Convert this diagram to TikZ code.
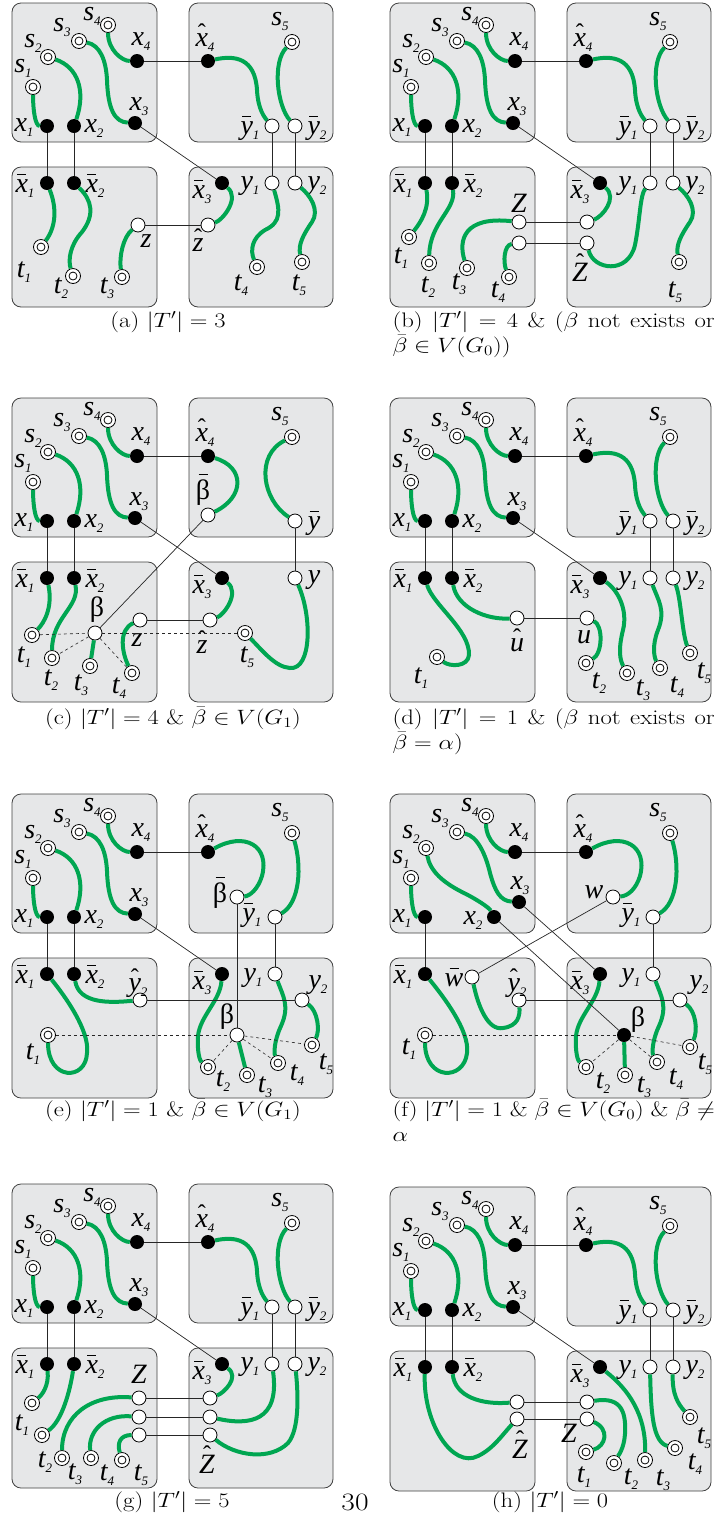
\documentclass[tikz,border=0pt]{standalone}
\usepackage{fontspec}
\newfontfamily\labfont{Liberation Serif}
\definecolor{pathgreen}{RGB}{0,166,81}
\definecolor{boxgray}{RGB}{230,231,232}

% label helpers
\newcommand\lsz{\fontsize{28}{28}\selectfont}
\newcommand\sub[1]{\raisebox{-5pt}{\fontsize{13}{13}\selectfont\itshape #1}}
\newcommand\barred[1]{\setbox0=\hbox{#1}\rlap{\hbox to \wd0{\hss\raisebox{\dimexpr\ht0+5pt\relax}{\rule{9pt}{1.1pt}}\hss}}\box0}
\newcommand\hatted[1]{\setbox0=\hbox{#1}\rlap{\hbox to \wd0{\hss\raisebox{\dimexpr\ht0-7pt\relax}{\fontsize{24}{24}\selectfont\upshape\char"02C6}\hss}}\box0}
\newcommand\lx[2]{{\lsz\itshape #1}\sub{#2}}
\newcommand\lbar[2]{{\lsz\itshape\barred{#1}}\sub{#2}}
\newcommand\lhat[2]{{\lsz\itshape\hatted{#1}}\sub{#2}}
% captions
\newcommand\capsz{\fontsize{21}{25}\selectfont}
\newcommand\capone[1]{\scalebox{1.18}[1]{\capsz #1}}
\newcommand\captwo[2]{\scalebox{1.18}[1]{\parbox[t]{273pt}{\capsz\makebox[273pt][s]{#1}\\#2}}}

% the four boxes of one panel
\newcommand\boxes{%
  \draw[box] (12,3) rectangle (157,142);
  \draw[box] (189,3) rectangle (333,142);
  \draw[box] (12,167) rectangle (157,307);
  \draw[box] (189,167) rectangle (333,307);
}
% sources, x1 and x4
\newcommand\sources[1]{%
  \node[tnode] (#1-s1) at (33,87) {};
  \node[tnode] (#1-s2) at (48,57) {};
  \node[tnode] (#1-s3) at (79,41) {};
  \node[tnode] (#1-s4) at (108,25) {};
  \node[lab] (#1-ls1) at (23,68) {\lx{s}{1}};
  \node[lab] (#1-ls2) at (33,43) {\lx{s}{2}};
  \node[lab] (#1-ls3) at (62,27) {\lx{s}{3}};
  \node[lab] (#1-ls4) at (92,16) {\lx{s}{4}};
  \node[fnode] (#1-x1) at (47,126) {};
  \node[fnode] (#1-x4) at (137,61) {};
  \node[lab] (#1-lx1) at (24,128) {\lx{x}{1}};
  \node[lab] (#1-lx4) at (141,42) {\lx{x}{4}};
  \draw[grn] (#1-s1) .. controls +(0,22) and +(-12,0) .. (#1-x1);
  \draw[grn] (#1-s4) .. controls +(0,25) and +(-15,0) .. (#1-x4);
}
% standard top left box
\newcommand\TL[1]{%
  \sources{#1}
  \node[fnode] (#1-x2) at (74,126) {};
  \node[fnode] (#1-x3) at (135,123) {};
  \node[lab] (#1-lx2) at (94,129) {\lx{x}{2}};
  \node[lab] (#1-lx3) at (139,107) {\lx{x}{3}};
  \draw[grn] (#1-s2) .. controls (78,67) and (86,91) .. (#1-x2);
  \draw[grn] (#1-s3) .. controls (100,45) and (106,60) .. (107,80) .. controls (108,110) and (115,122) .. (#1-x3);
}
% hat x4 and s5
\newcommand\TRhat[1]{%
  \node[fnode] (#1-hx4) at (208,61) {};
  \node[tnode] (#1-s5) at (292,42) {};
  \node[lab] (#1-lhx4) at (205,38) {\lhat{x}{4}};
  \node[lab] (#1-ls5) at (280,21) {\lx{s}{5}};
}
% standard top right box
\newcommand\TR[1]{%
  \TRhat{#1}
  \node[onode] (#1-by1) at (272,126) {};
  \node[onode] (#1-by2) at (295,126) {};
  \node[lab] (#1-lby1) at (250,128) {\lbar{y}{1}};
  \node[lab] (#1-lby2) at (317,128) {\lbar{y}{2}};
  \draw[grn] (#1-hx4) .. controls (235,55) and (255,58) .. (257,90) .. controls (258,110) and (265,118) .. (#1-by1);
  \draw[grn] (#1-s5) .. controls +(-20,20) and +(-18,-20) .. (#1-by2);
}
\newcommand\BLtop[1]{%
  \node[fnode] (#1-bx1) at (47,183) {};
  \node[fnode] (#1-bx2) at (74,183) {};
  \node[lab] (#1-lbx1) at (25,186) {\lbar{x}{1}};
  \node[lab] (#1-lbx2) at (95,186) {\lbar{x}{2}};
}
\newcommand\BRtop[1]{%
  \node[fnode] (#1-bx3) at (222,183) {};
  \node[lab] (#1-lbx3) at (202,192) {\lbar{x}{3}};
}
\newcommand\Ys[1]{%
  \node[onode] (#1-y1) at (272,183) {};
  \node[onode] (#1-y2) at (295,183) {};
  \node[lab] (#1-ly1) at (250,186) {\lx{y}{1}};
  \node[lab] (#1-ly2) at (317,186) {\lx{y}{2}};
}
% edges between the boxes
\newcommand\links[1]{%
  \draw[link] (#1-x1) -- (#1-bx1);
  \draw[link] (#1-x2) -- (#1-bx2);
  \draw[link] (#1-x3) -- (#1-bx3);
  \draw[link] (#1-x4) -- (#1-hx4);
}

\begin{document}
\begin{tikzpicture}[x=1pt, y=-1pt,
    box/.style={draw=black!75, fill=boxgray, rounded corners=9pt, line width=0.8pt},
    fnode/.style={circle, fill=black, inner sep=0pt, minimum size=14pt},
    onode/.style={circle, draw=black, fill=white, line width=0.8pt, inner sep=0pt, minimum size=14pt},
    tnode/.style={circle, draw=black, fill=white, line width=0.8pt, inner sep=0pt, minimum size=15pt,
      path picture={\draw[line width=0.8pt] (path picture bounding box.center) circle (4pt);}},
    grn/.style={draw=pathgreen, line width=4pt},
    link/.style={draw=black!85, line width=0.7pt},
    dlink/.style={draw=black!85, line width=0.6pt, dashed},
    lab/.style={inner sep=0pt, font=\labfont}]
  \useasboundingbox (0,0) rectangle (714,1535);

  % (a)
  \begin{scope}
    \boxes \TL{a} \TR{a} \BLtop{a} \BRtop{a} \Ys{a}
    \node[tnode] (a-t1) at (41,247) {};
    \node[tnode] (a-t2) at (73,276) {};
    \node[tnode] (a-t3) at (122,277) {};
    \node[onode] (a-z) at (138,225) {};
    \node[onode] (a-hz) at (208,225) {};
    \node[tnode] (a-t4) at (257,267) {};
    \node[tnode] (a-t5) at (302,262) {};
    \node[lab] (a-lt1) at (24,272) {\lx{t}{1}};
    \node[lab] (a-lt2) at (61,288) {\lx{t}{2}};
    \node[lab] (a-lt3) at (107,288) {\lx{t}{3}};
    \node[lab] (a-lz) at (146,244) {\lx{z}{}};
    \node[lab] (a-lhz) at (198,243) {\lhat{z}{}};
    \node[lab] (a-lt4) at (241,285) {\lx{t}{4}};
    \node[lab] (a-lt5) at (299,285) {\lx{t}{5}};
    \draw[grn] (a-bx1) .. controls (57,208) and (56,227) .. (a-t1);
    \draw[grn] (a-bx2) .. controls (92,200) and (95,215) .. (82,232) .. controls (70,245) and (68,260) .. (a-t2);
    \draw[grn] (a-z) .. controls +(-15,12) and +(-3,-20) .. (a-t3);
    \draw[grn] (a-bx3) .. controls (240,198) and (223,220) .. (a-hz);
    \draw[grn] (a-y1) .. controls (280,210) and (282,222) .. (265,230) .. controls (252,238) and (250,250) .. (a-t4);
    \draw[grn] (a-y2) .. controls (310,195) and (320,210) .. (312,222) .. controls (303,235) and (298,245) .. (a-t5);
    \links{a}
    \draw[link] (a-z) -- (a-hz);
    \draw[link] (a-by1) -- (a-y1);
    \draw[link] (a-by2) -- (a-y2);
  \end{scope}

  % (b)
  \begin{scope}[shift={(378,0)}]
    \boxes \TL{b} \TR{b} \BLtop{b} \BRtop{b} \Ys{b}
    \node[tnode] (b-t1) at (31,237) {};
    \node[tnode] (b-t2) at (51,263) {};
    \node[tnode] (b-t3) at (89,268) {};
    \node[tnode] (b-t4) at (131,277) {};
    \node[onode] (b-Z1) at (141,222) {};
    \node[onode] (b-Z2) at (141,243) {};
    \node[onode] (b-hZ1) at (209,222) {};
    \node[onode] (b-hZ2) at (209,243) {};
    \node[tnode] (b-t5) at (301,262) {};
    \node[lab] (b-lt1) at (23,258) {\lx{t}{1}};
    \node[lab] (b-lt2) at (50,287) {\lx{t}{2}};
    \node[lab] (b-lt3) at (81,284) {\lx{t}{3}};
    \node[lab] (b-lt4) at (120,292) {\lx{t}{4}};
    \node[lab] (b-lZ) at (141,206) {\lx{Z}{}};
    \node[lab] (b-lhZ) at (202,270) {\lhat{Z}{}};
    \node[lab] (b-lt5) at (297,292) {\lx{t}{5}};
    \draw[grn] (b-bx1) .. controls +(5,25) and +(12,-15) .. (b-t1);
    \draw[grn] (b-bx2) .. controls (78,210) and (52,222) .. (b-t2);
    \draw[grn] (b-Z1) .. controls (86,216) and (80,240) .. (b-t3);
    \draw[grn] (b-Z2) .. controls (126,245) and (125,262) .. (b-t4);
    \draw[grn] (b-bx3) .. controls (240,198) and (224,217) .. (b-hZ1);
    \draw[grn] (b-hZ2) .. controls (215,270) and (250,275) .. (257,245) .. controls (262,220) and (262,195) .. (b-y1);
    \draw[grn] (b-y2) .. controls (310,195) and (320,210) .. (312,222) .. controls (303,235) and (298,245) .. (b-t5);
    \links{b}
    \draw[link] (b-Z1) -- (b-hZ1);
    \draw[link] (b-Z2) -- (b-hZ2);
    \draw[link] (b-by1) -- (b-y1);
    \draw[link] (b-by2) -- (b-y2);
  \end{scope}

  % (c)
  \begin{scope}[shift={(0,395)}]
    \boxes \TL{c} \TRhat{c} \BLtop{c} \BRtop{c}
    \node[onode] (c-bb) at (208,120) {};
    \node[onode] (c-by) at (295,126) {};
    \node[lab] (c-lbb) at (203,95) {\lsz\barred{β}};
    \node[lab] (c-lby) at (314,128) {\lbar{y}{}};
    \node[tnode] (c-t1) at (32,240) {};
    \node[tnode] (c-t2) at (52,263) {};
    \node[tnode] (c-t3) at (90,271) {};
    \node[tnode] (c-t4) at (132,278) {};
    \node[onode] (c-b) at (95,238) {};
    \node[onode] (c-z) at (140,225) {};
    \node[onode] (c-hz) at (210,225) {};
    \node[tnode] (c-t5) at (245,238) {};
    \node[onode] (c-y) at (295,183) {};
    \node[lab] (c-lt1) at (24,262) {\lx{t}{1}};
    \node[lab] (c-lt2) at (51,285) {\lx{t}{2}};
    \node[lab] (c-lt3) at (81,290) {\lx{t}{3}};
    \node[lab] (c-lt4) at (119,293) {\lx{t}{4}};
    \node[lab] (c-lb) at (97,215) {\lsz β};
    \node[lab] (c-lz) at (137,248) {\lx{z}{}};
    \node[lab] (c-lhz) at (202,250) {\lhat{z}{}};
    \node[lab] (c-lt5) at (247,262) {\lx{t}{5}};
    \node[lab] (c-ly) at (314,185) {\lx{y}{}};
    \draw[grn] (c-hx4) .. controls (245,72) and (245,102) .. (c-bb);
    \draw[grn] (c-s5) .. controls (255,60) and (262,105) .. (c-by);
    \draw[grn] (c-bx1) .. controls +(6,30) and +(12,-12) .. (c-t1);
    \draw[grn] (c-bx2) .. controls (80,212) and (52,222) .. (c-t2);
    \draw[grn] (c-b) -- (c-t3);
    \draw[grn] (c-z) .. controls +(-22,10) and +(-10,-20) .. (c-t4);
    \draw[grn] (c-bx3) .. controls (240,198) and (224,220) .. (c-hz);
    \draw[grn] (c-y) .. controls (312,220) and (312,275) .. (290,273) .. controls (275,272) and (262,255) .. (c-t5);
    \draw[dlink] (c-t1) -- (c-b);
    \draw[dlink] (c-b) -- (c-t5);
    \draw[dlink] (c-b) -- (c-t2);
    \draw[dlink] (c-b) -- (c-t4);
    \links{c}
    \draw[link] (c-z) -- (c-hz);
    \draw[link] (c-by) -- (c-y);
    \draw[link] (c-b) -- (c-bb);
  \end{scope}

  % (d)
  \begin{scope}[shift={(378,395)}]
    \boxes \TL{d} \TR{d} \BLtop{d} \BRtop{d} \Ys{d}
    \node[onode] (d-hu) at (139,223) {};
    \node[tnode] (d-t1) at (59,262) {};
    \node[onode] (d-u) at (209,223) {};
    \node[tnode] (d-t2) at (208,268) {};
    \node[tnode] (d-t3) at (249,278) {};
    \node[tnode] (d-t4) at (282,273) {};
    \node[tnode] (d-t5) at (312,258) {};
    \node[lab] (d-lhu) at (139,248) {\lhat{u}{}};
    \node[lab] (d-lt1) at (43,283) {\lx{t}{1}};
    \node[lab] (d-lu) at (206,245) {\lx{u}{}};
    \node[lab] (d-lt2) at (221,288) {\lx{t}{2}};
    \node[lab] (d-lt3) at (265,295) {\lx{t}{3}};
    \node[lab] (d-lt4) at (299,292) {\lx{t}{4}};
    \node[lab] (d-lt5) at (326,278) {\lx{t}{5}};
    \draw[grn] (d-bx1) .. controls (55,210) and (92,235) .. (91,260) .. controls (90,272) and (72,272) .. (d-t1);
    \draw[grn] (d-bx2) .. controls +(5,30) and +(-30,2) .. (d-hu);
    \draw[grn] (d-u) .. controls (225,230) and (225,258) .. (d-t2);
    \draw[grn] (d-bx3) .. controls (240,195) and (250,215) .. (245,235) .. controls (240,255) and (242,265) .. (d-t3);
    \draw[grn] (d-y1) .. controls (280,205) and (288,215) .. (280,235) .. controls (274,250) and (276,262) .. (d-t4);
    \draw[grn] (d-y2) .. controls +(8,20) and +(-8,-20) .. (d-t5);
    \links{d}
    \draw[link] (d-hu) -- (d-u);
    \draw[link] (d-by1) -- (d-y1);
    \draw[link] (d-by2) -- (d-y2);
  \end{scope}

  % (e)
  \begin{scope}[shift={(0,791)}]
    \boxes \TL{e} \TRhat{e} \BLtop{e} \BRtop{e}
    \node[onode] (e-bb) at (237,106) {};
    \node[onode] (e-by1) at (275,126) {};
    \node[lab] (e-lbb) at (220,102) {\lsz\barred{β}};
    \node[lab] (e-lby1) at (252,124) {\lbar{y}{1}};
    \node[onode] (e-hy2) at (140,209) {};
    \node[tnode] (e-t1) at (48,244) {};
    \node[lab] (e-lhy2) at (138,192) {\lhat{y}{2}};
    \node[lab] (e-lt1) at (33,263) {\lx{t}{1}};
    \node[onode] (e-y1) at (275,183) {};
    \node[onode] (e-y2) at (302,209) {};
    \node[onode] (e-b) at (237,244) {};
    \node[tnode] (e-t2) at (208,276) {};
    \node[tnode] (e-t3) at (247,284) {};
    \node[tnode] (e-t4) at (278,272) {};
    \node[tnode] (e-t5) at (312,254) {};
    \node[lab] (e-ly1) at (253,187) {\lx{y}{1}};
    \node[lab] (e-ly2) at (318,194) {\lx{y}{2}};
    \node[lab] (e-lb) at (227,226) {\lsz β};
    \node[lab] (e-lt2) at (223,290) {\lx{t}{2}};
    \node[lab] (e-lt3) at (265,296) {\lx{t}{3}};
    \node[lab] (e-lt4) at (297,284) {\lx{t}{4}};
    \node[lab] (e-lt5) at (326,273) {\lx{t}{5}};
    \draw[grn] (e-hx4) .. controls (245,40) and (270,55) .. (262,85) .. controls (258,98) and (250,105) .. (e-bb);
    \draw[grn] (e-s5) .. controls (302,75) and (300,112) .. (e-by1);
    \draw[grn] (e-bx1) .. controls (65,205) and (90,240) .. (87,262) .. controls (86,290) and (48,290) .. (e-t1);
    \draw[grn] (e-bx2) .. controls +(5,30) and +(-30,3) .. (e-hy2);
    \draw[grn] (e-bx3) .. controls (220,210) and (200,225) .. (198,245) .. controls (197,262) and (200,270) .. (e-t2);
    \draw[grn] (e-b) -- (e-t3);
    \draw[grn] (e-y1) .. controls (283,205) and (290,215) .. (281,235) .. controls (274,250) and (274,262) .. (e-t4);
    \draw[grn] (e-y2) .. controls (318,220) and (320,240) .. (e-t5);
    \draw[dlink] (e-t1) -- (e-b);
    \draw[dlink] (e-b) -- (e-t2);
    \draw[dlink] (e-b) -- (e-t4);
    \draw[dlink] (e-b) -- (e-t5);
    \links{e}
    \draw[link] (e-bb) -- (e-b);
    \draw[link] (e-hy2) -- (e-y2);
    \draw[link] (e-by1) -- (e-y1);
  \end{scope}

  % (f)
  \begin{scope}[shift={(378,791)}]
    \boxes \sources{f} \TRhat{f} \BRtop{f}
    \node[fnode] (f-x2) at (116,126) {};
    \node[fnode] (f-x3) at (141,111) {};
    \node[lab] (f-lx2) at (95,130) {\lx{x}{2}};
    \node[lab] (f-lx3) at (142,95) {\lx{x}{3}};
    \draw[grn] (f-s2) .. controls (52,80) and (65,92) .. (88,103) .. controls (105,112) and (112,118) .. (f-x2);
    \draw[grn] (f-s3) .. controls (100,45) and (108,65) .. (112,82) .. controls (117,100) and (122,110) .. (f-x3);
    \node[onode] (f-w) at (235,106) {};
    \node[onode] (f-by1) at (275,126) {};
    \node[lab] (f-lw) at (216,104) {\lx{w}{}};
    \node[lab] (f-lby1) at (253,124) {\lbar{y}{1}};
    \node[fnode] (f-bx1) at (47,183) {};
    \node[onode] (f-bw) at (94,186) {};
    \node[onode] (f-hy2) at (141,209) {};
    \node[tnode] (f-t1) at (47,244) {};
    \node[lab] (f-lbx1) at (25,186) {\lbar{x}{1}};
    \node[lab] (f-lbw) at (76,189) {\lbar{w}{}};
    \node[lab] (f-lhy2) at (139,192) {\lhat{y}{2}};
    \node[lab] (f-lt1) at (31,258) {\lx{t}{1}};
    \node[onode] (f-y1) at (275,183) {};
    \node[onode] (f-y2) at (302,209) {};
    \node[fnode] (f-b) at (246,244) {};
    \node[tnode] (f-t2) at (208,276) {};
    \node[tnode] (f-t3) at (247,284) {};
    \node[tnode] (f-t4) at (279,271) {};
    \node[tnode] (f-t5) at (312,256) {};
    \node[lab] (f-ly1) at (253,187) {\lx{y}{1}};
    \node[lab] (f-ly2) at (321,194) {\lx{y}{2}};
    \node[lab] (f-lb) at (260,229) {\lsz β};
    \node[lab] (f-lt2) at (225,292) {\lx{t}{2}};
    \node[lab] (f-lt3) at (266,296) {\lx{t}{3}};
    \node[lab] (f-lt4) at (298,288) {\lx{t}{4}};
    \node[lab] (f-lt5) at (327,273) {\lx{t}{5}};
    \draw[grn] (f-hx4) .. controls (245,40) and (270,55) .. (262,85) .. controls (258,98) and (250,105) .. (f-w);
    \draw[grn] (f-s5) .. controls (302,75) and (300,112) .. (f-by1);
    \draw[grn] (f-bx1) .. controls (65,205) and (92,240) .. (89,262) .. controls (86,290) and (47,290) .. (f-t1);
    \draw[grn] (f-bw) .. controls (100,215) and (110,240) .. (125,237) .. controls (140,235) and (142,225) .. (f-hy2);
    \draw[grn] (f-bx3) .. controls (220,210) and (200,225) .. (198,245) .. controls (197,262) and (200,270) .. (f-t2);
    \draw[grn] (f-b) -- (f-t3);
    \draw[grn] (f-y1) .. controls (283,205) and (290,215) .. (281,235) .. controls (274,250) and (274,262) .. (f-t4);
    \draw[grn] (f-y2) .. controls (318,220) and (320,240) .. (f-t5);
    \draw[dlink] (f-t1) -- (f-b);
    \draw[dlink] (f-b) -- (f-t2);
    \draw[dlink] (f-b) -- (f-t4);
    \draw[dlink] (f-b) -- (f-t5);
    \draw[link] (f-x1) -- (f-bx1);
    \draw[link] (f-x2) -- (f-b);
    \draw[link] (f-x3) -- (f-bx3);
    \draw[link] (f-x4) -- (f-hx4);
    \draw[link] (f-w) -- (f-bw);
    \draw[link] (f-hy2) -- (f-y2);
    \draw[link] (f-by1) -- (f-y1);
  \end{scope}

  % (g)
  \begin{scope}[shift={(0,1181)}]
    \boxes \TL{g} \TR{g} \BLtop{g} \BRtop{g} \Ys{g}
    \foreach \i/\yy in {1/217,2/236,3/254} {
      \node[onode] (g-Z\i) at (139,\yy) {};
      \node[onode] (g-hZ\i) at (210,\yy) {};
      \draw[link] (g-Z\i) -- (g-hZ\i);
    }
    \node[tnode] (g-t1) at (32,222) {};
    \node[tnode] (g-t2) at (42,254) {};
    \node[tnode] (g-t3) at (62,277) {};
    \node[tnode] (g-t4) at (91,277) {};
    \node[tnode] (g-t5) at (122,279) {};
    \node[lab] (g-lZ) at (139,196) {\lx{Z}{}};
    \node[lab] (g-lhZ) at (207,281) {\lhat{Z}{}};
    \node[lab] (g-lt1) at (22,244) {\lx{t}{1}};
    \node[lab] (g-lt2) at (45,281) {\lx{t}{2}};
    \node[lab] (g-lt3) at (75,293) {\lx{t}{3}};
    \node[lab] (g-lt4) at (107,294) {\lx{t}{4}};
    \node[lab] (g-lt5) at (141,294) {\lx{t}{5}};
    \draw[grn] (g-bx1) .. controls +(2,22) and +(10,-8) .. (g-t1);
    \draw[grn] (g-bx2) .. controls (70,210) and (62,240) .. (g-t2);
    \draw[grn] (g-Z1) .. controls (90,213) and (62,235) .. (g-t3);
    \draw[grn] (g-Z2) .. controls (105,233) and (88,250) .. (g-t4);
    \draw[grn] (g-Z3) .. controls (120,254) and (117,262) .. (g-t5);
    \draw[grn] (g-bx3) .. controls (240,196) and (224,212) .. (g-hZ1);
    \draw[grn] (g-hZ2) .. controls (250,245) and (280,240) .. (g-y1);
    \draw[grn] (g-hZ3) .. controls (235,275) and (270,280) .. (288,262) .. controls (300,248) and (298,210) .. (g-y2);
    \links{g}
    \draw[link] (g-by1) -- (g-y1);
    \draw[link] (g-by2) -- (g-y2);
  \end{scope}

  % (h)
  \begin{scope}[shift={(378,1184)}]
    \boxes \TL{h} \TR{h} \BLtop{h} \BRtop{h} \Ys{h}
    \node[onode] (h-U1) at (139,218) {};
    \node[onode] (h-U2) at (139,235) {};
    \node[onode] (h-V1) at (209,218) {};
    \node[onode] (h-V2) at (209,235) {};
    \node[tnode] (h-t1) at (208,268) {};
    \node[tnode] (h-t2) at (236,279) {};
    \node[tnode] (h-t3) at (267,276) {};
    \node[tnode] (h-t4) at (297,264) {};
    \node[tnode] (h-t5) at (312,233) {};
    \node[lab] (h-lhZ) at (142,263) {\lhat{Z}{}};
    \node[lab] (h-lZ) at (191,252) {\lx{Z}{}};
    \node[lab] (h-lt1) at (206,293) {\lx{t}{1}};
    \node[lab] (h-lt2) at (253,295) {\lx{t}{2}};
    \node[lab] (h-lt3) at (285,296) {\lx{t}{3}};
    \node[lab] (h-lt4) at (317,280) {\lx{t}{4}};
    \node[lab] (h-lt5) at (326,254) {\lx{t}{5}};
    \draw[grn] (h-bx1) .. controls (45,240) and (75,285) .. (100,272) .. controls (115,265) and (125,250) .. (h-U2);
    \draw[grn] (h-bx2) .. controls +(3,30) and +(-35,3) .. (h-U1);
    \draw[grn] (h-V2) .. controls (232,245) and (228,262) .. (h-t1);
    \draw[grn] (h-V1) .. controls (245,212) and (248,230) .. (247,250) .. controls (246,265) and (240,272) .. (h-t2);
    \draw[grn] (h-bx3) .. controls (250,205) and (268,230) .. (h-t3);
    \draw[grn] (h-y1) .. controls (273,230) and (275,258) .. (h-t4);
    \draw[grn] (h-y2) .. controls (294,210) and (300,220) .. (h-t5);
    \links{h}
    \draw[link] (h-U1) -- (h-V1);
    \draw[link] (h-U2) -- (h-V2);
    \draw[link] (h-by1) -- (h-y1);
    \draw[link] (h-by2) -- (h-y2);
  \end{scope}

  % captions
  \node[anchor=base] (capa) at (168,327) {\capone{(a) $|T'| = 3$}};
  \node[anchor=base west] (capb) at (389,327) {\captwo{(b) $|T'| = 4$ \& ($\beta$ not exists or}{$\bar{\beta}\in V(G_0)$)}};
  \node[anchor=base] (capc) at (173,724) {\capone{(c) $|T'| = 4$ \& $\bar{\beta}\in V(G_1)$}};
  \node[anchor=base west] (capd) at (389,724) {\captwo{(d) $|T'| = 1$ \& ($\beta$ not exists or}{$\bar{\beta} = \alpha$)}};
  \node[anchor=base] (cape) at (173,1116) {\capone{(e) $|T'| = 1$ \& $\bar{\beta}\in V(G_1)$}};
  \node[anchor=base west] (capf) at (389,1116) {\captwo{(f) $|T'| = 1$ \& $\bar{\beta}\in V(G_0)$ \& $\bar{\beta}\neq$}{$\alpha$}};
  \node[anchor=base] (capg) at (172,1507) {\capone{(g) $|T'| = 5$}};
  \node[anchor=base] (pagenum) at (355,1510) {\scalebox{1.18}[1]{\fontsize{25}{25}\selectfont 30}};
  \node[anchor=base] (caph) at (550,1507) {\capone{(h) $|T'| = 0$}};
\end{tikzpicture}
\end{document}
